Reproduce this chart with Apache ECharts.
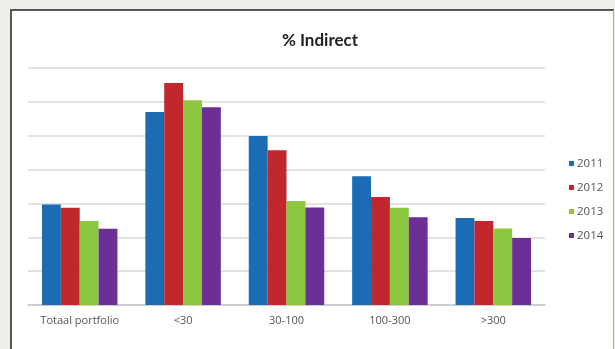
<!DOCTYPE html>
<html>
<head>
<meta charset="utf-8">
<script src="https://cdn.jsdelivr.net/npm/echarts@6/dist/echarts.min.js"></script>
<style>
  html, body { margin: 0; padding: 0; background: #efeeea; }
  #panel {
    position: absolute; left: 10px; top: 9px; width: 601px; height: 340px;
    background: #fff; border-left: 2px solid #555; border-top: 2px solid #555;
    border-right: 1px solid #aaa;
  }
  #chart { position: absolute; left: 0; top: 0; width: 615px; height: 349px; }
</style>
</head>
<body>
<div id="panel"></div>
<div id="chart"></div>
<script>
// categories and yearly series (% indirect)
var categories = ['Totaal portfolio', '<30', '30-100', '100-300', '>300']
var years = ['2011', '2012', '2013', '2014']
var data2011 = [29.7, 57.0, 49.9, 38.0, 25.7]
var data2012 = [28.7, 65.6, 45.7, 31.9, 24.8]
var data2013 = [24.8, 60.5, 30.7, 28.7, 22.6]
var data2014 = [22.5, 58.4, 28.8, 25.9, 19.8]
var colors = ['#1a6cb5', '#c1272d', '#8dc63f', '#6b2f96']

var chart = echarts.init(document.getElementById('chart'))
var seriesData = [data2011, data2012, data2013, data2014]

chart.setOption({
  animation: false,
  color: colors,
  title: {
    text: '% Indirect',
    left: 315,
    textAlign: 'center',
    top: 27,
    textStyle: { fontFamily: 'Lato', fontWeight: 'bold', fontSize: 17, color: '#222' }
  },
  legend: {
    data: years,
    orient: 'vertical',
    left: 564,
    top: 151,
    itemWidth: 5,
    itemHeight: 5,
    itemGap: 9,
    icon: 'rect',
    textStyle: { fontFamily: 'Open Sans', fontSize: 11.5, lineHeight: 15, color: '#555', padding: [0, 0, 0, -2] }
  },
  grid: { left: 28, right: 70, top: 68, bottom: 44 },
  xAxis: {
    type: 'category',
    data: categories,
    axisTick: { show: false },
    axisLine: { lineStyle: { color: '#c8c8c8', width: 1.5 } },
    axisLabel: { fontFamily: 'Open Sans', fontSize: 11, color: '#555', margin: 10 }
  },
  yAxis: {
    type: 'value',
    min: 0,
    max: 70,
    interval: 10,
    axisLabel: { show: false },
    axisLine: { show: false },
    axisTick: { show: false },
    splitLine: { lineStyle: { color: '#d9d9d9', width: 1.5 } }
  },
  series: years.map(function (y, i) {
    return {
      name: y,
      type: 'bar',
      data: seriesData[i],
      barGap: '0%',
      barCategoryGap: '27%'
    }
  })
})
</script>
</body>
</html>
